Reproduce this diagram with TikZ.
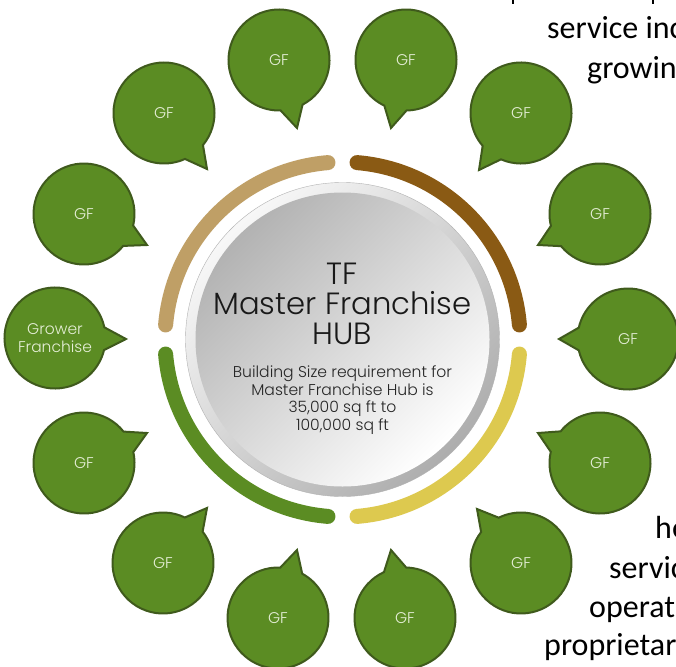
\documentclass[tikz,border=0pt]{standalone}
\usepackage{fontspec}
\setmainfont{Poppins Light}
\newfontfamily\bodyfont{Carlito}
\usetikzlibrary{calc}
\definecolor{gfill}{HTML}{5B8C23}
\definecolor{gedge}{HTML}{3F5A1C}
\definecolor{tanarc}{HTML}{BF9F66}
\definecolor{brownarc}{HTML}{8A5A14}
\definecolor{yelarc}{HTML}{DDC94F}
\definecolor{grnarc}{HTML}{5B8C23}
\definecolor{gftext}{HTML}{E6EFD8}
\tikzset{
  bubble/.style={fill=gfill,draw=gedge,line width=2pt,line join=miter},
  gflabel/.style={text=gftext,font=\fontsize{15.5}{18}\selectfont,align=center,inner sep=0pt},
  ringarc/.style={line width=15pt,line cap=round},
  bodytext/.style={font=\bodyfont\fontsize{32}{34}\selectfont,text=black,inner sep=0pt,anchor=base west},
}
% #1 name, #2 cx, #3 cy (y down), #4 tip x, #5 tip y, #6 text
\newcommand{\gfbubble}[6]{%
  \coordinate (#1c) at (#2,-#3);
  \coordinate (#1t) at (#4,-#5);
  \path let \p1=($(#1t)-(#1c)$), \n1={atan2(\y1,\x1)} in
    \pgfextra{\xdef\bubang{\n1}};
  \draw[bubble] ($(#1c)+(\bubang+13:50.5)$) arc[start angle=\bubang+13,delta angle=334,radius=50.5] -- (#1t) -- cycle;
  \node[gflabel] (#1) at (#1c) {#6};
}
\begin{document}
\begin{tikzpicture}[x=1pt,y=1pt]
\useasboundingbox (0,0) rectangle (676,-666);
\clip (0,0) rectangle (676,-666);
\fill[white] (0,0) rectangle (676,-666);
% cropped body text
\draw[line width=2pt] (513,0) -- (513,-4);
\draw[line width=2pt] (653,0) -- (653,-4);
\node[bodytext] (t1) at (547,-39) {service inc};
\node[bodytext] (t2) at (587,-79) {growin};
\node[bodytext] (t3) at (655,-538) {he};
\node[bodytext] (t4) at (609,-578) {servic};
\node[bodytext] (t5) at (589,-617) {operat};
\node[bodytext] (t6) at (544,-655) {proprietar};
% ring arcs
\coordinate (hub) at (342.5,-339.5);
\draw[ringarc,tanarc] ($(hub)+(94.7:177.5)$) arc[start angle=94.7,end angle=175.3,radius=177.5];
\draw[ringarc,brownarc] ($(hub)+(85.3:177.5)$) arc[start angle=85.3,end angle=4.7,radius=177.5];
\draw[ringarc,yelarc] ($(hub)+(-4.7:177.5)$) arc[start angle=-4.7,end angle=-85.3,radius=177.5];
\draw[ringarc,grnarc] ($(hub)+(-94.7:177.5)$) arc[start angle=-94.7,end angle=-175.3,radius=177.5];
% hub disk
\shade[shading=axis,top color=white!97!black,bottom color=black!32,shading angle=45] (hub) circle[radius=157];
\draw[black!30,line width=.4pt] (hub) circle[radius=157];
\shade[shading=axis,top color=black!30,bottom color=white,shading angle=45] (hub) circle[radius=147];
\node[inner sep=0pt,align=center,font=\fontsize{30.7}{30}\selectfont,text=black!90] (title) at (342.5,-304) {TF\\Master Franchise\\HUB};
\node[inner sep=0pt,align=center,font=\fontsize{15.6}{17.5}\selectfont,text=black!85] (sub) at (342.5,-400) {Building Size requirement for\\Master Franchise Hub is\\35,000 sq ft to\\100,000 sq ft};
% bubbles
\gfbubble{b1}{279}{60}{297}{128}{GF}
\gfbubble{b2}{406}{60}{391}{128}{GF}
\gfbubble{b3}{164}{113}{207}{169}{GF}
\gfbubble{b4}{521}{113}{479}{170}{GF}
\gfbubble{b5}{84}{214}{147}{245}{GF}
\gfbubble{b6}{600}{214}{538}{245}{GF}
\gfbubble{b7}{55}{338}{126}{339}{Grower\\Franchise}
\gfbubble{b8}{628}{339}{559}{339}{GF}
\gfbubble{b9}{84}{463}{147}{433}{GF}
\gfbubble{b10}{600}{463}{538}{433}{GF}
\gfbubble{b11}{163}{563}{207}{508}{GF}
\gfbubble{b12}{521}{563}{477}{509}{GF}
\gfbubble{b13}{278}{618}{297}{550}{GF}
\gfbubble{b14}{405}{618}{391}{550}{GF}
\end{tikzpicture}
\end{document}
